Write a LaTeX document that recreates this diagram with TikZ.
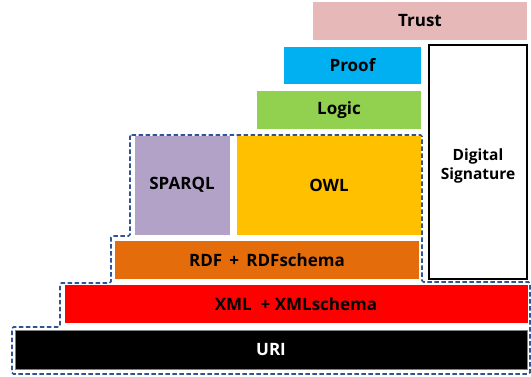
\documentclass[tikz,border=0pt]{standalone}
\usepackage{fontspec}
\setmainfont{Open Sans}
\definecolor{trustc}{HTML}{E6B9B8}
\definecolor{proofc}{HTML}{00B0F0}
\definecolor{logicc}{HTML}{92D050}
\definecolor{sparqlc}{HTML}{B3A2C7}
\definecolor{owlc}{HTML}{FFC000}
\definecolor{rdfc}{HTML}{E46C0A}
\definecolor{xmlc}{HTML}{FF0000}
\definecolor{dashc}{HTML}{2F5597}
\begin{document}
\begin{tikzpicture}[x=1pt,y=-1pt,
  layer/.style={draw=none,inner sep=0pt,outer sep=0pt,font=\fontsize{17}{19}\selectfont\bfseries,text=black},
  sigbox/.style={draw=black,line width=2.6pt,fill=white,inner sep=0pt,outer sep=0pt},
  stackline/.style={draw=dashc,line width=1.7pt,dash pattern=on 4.5pt off 2.5pt,rounded corners=1.5pt}]
\useasboundingbox (0,0) rectangle (531,376);
% dashed outline around the RDF/XML/URI stack
\draw[stackline] (130,135) -- (422,135) -- (422,282) -- (530,282) -- (530,374) -- (12,374)
  -- (12,327) -- (60,327) -- (60,283) -- (111,283) -- (111,236) -- (130,236) -- cycle;
% layers, bottom to top
\node[layer,fill=black,draw=gray,line width=0.8pt,text=white,minimum width=512pt,minimum height=39pt] (uri) at (271,349.5) {URI};
\node[layer,fill=xmlc,minimum width=463pt,minimum height=38pt] (xml) at (296,304) {XML\ \ + XMLschema};
\node[layer,fill=rdfc,minimum width=304pt,minimum height=38pt] (rdf) at (267,260) {RDF\,\ +\,\ RDFschema};
\node[layer,fill=sparqlc,minimum width=95pt,minimum height=99pt] (sparql) at (182,185) {SPARQL};
\node[layer,fill=owlc,minimum width=184pt,minimum height=99pt] (owl) at (329,185) {OWL};
\node[layer,fill=logicc,minimum width=164pt,minimum height=38.5pt] (logic) at (339,110) {Logic};
\node[layer,fill=proofc,minimum width=137pt,minimum height=37.5pt] (proof) at (352.5,65.5) {Proof};
\node[layer,fill=trustc,minimum width=214pt,minimum height=38pt] (trust) at (420,21) {Trust};
\node[sigbox,minimum width=98pt,minimum height=234pt] (sig) at (478,162) {};
\node[font=\fontsize{15.5}{19}\selectfont\bfseries,align=center,inner sep=0pt] (sigtext) at (478,166) {Digital\\Signature};
\end{tikzpicture}
\end{document}
